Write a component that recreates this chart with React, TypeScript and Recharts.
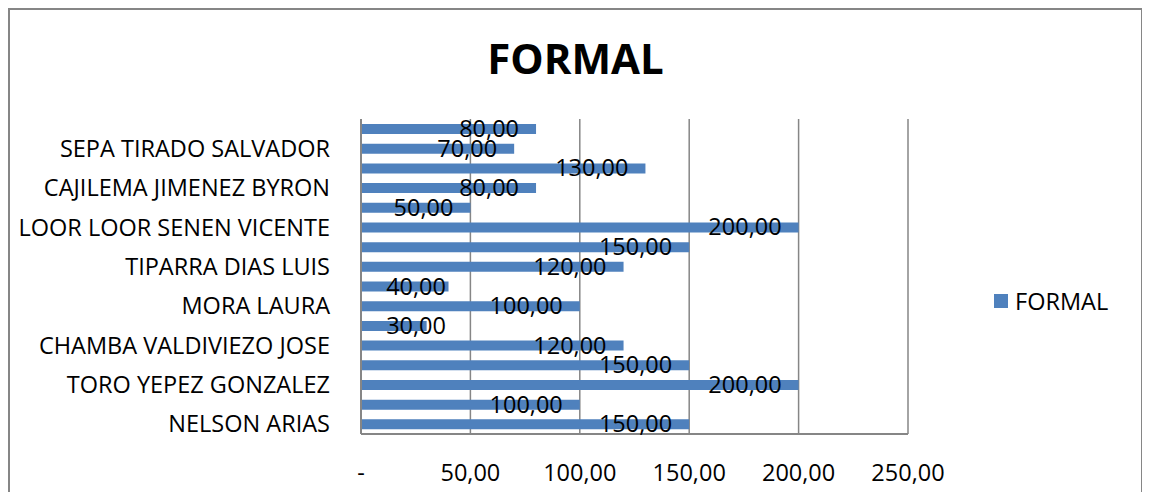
import React from "react";
import { BarChart, Bar, XAxis, YAxis, CartesianGrid, Legend, LabelList } from "recharts";

// categories listed top to bottom as they appear; only every other name is printed on the axis
const names = [
  "",
  "SEPA TIRADO SALVADOR",
  "",
  "CAJILEMA JIMENEZ BYRON",
  "",
  "LOOR LOOR SENEN VICENTE",
  "",
  "TIPARRA DIAS LUIS",
  "",
  "MORA LAURA",
  "",
  "CHAMBA VALDIVIEZO JOSE",
  "",
  "TORO YEPEZ GONZALEZ",
  "",
  "NELSON ARIAS",
];

const formal = [80, 70, 130, 80, 50, 200, 150, 120, 40, 100, 30, 120, 150, 200, 100, 150];

const xTicks = [0, 50, 100, 150, 200, 250];

const data = formal.map((v, i) => ({ id: i, FORMAL: v }));

const FONT = "'Open Sans', sans-serif";
const FS = 23.5;
const GRAY = "#868686";
const BLUE = "#4F81BD";

const fmt = (v: number) => (v === 0 ? "-" : v.toFixed(2).replace(".", ","));

const BarValue = (props: any) => {
  const { x, y, width, height, value } = props;
  const txt = fmt(Number(value));
  const w = txt.length * 12.6;
  // excel "inside end", but short bars keep the label near the axis
  const right = Math.max(x + width - 17, x + 22 + w);
  return (
    <text x={right} y={y + height / 2 + 8} textAnchor="end" fontSize={FS} fontFamily={FONT} fill="#000">
      {txt}
    </text>
  );
};

const LegendBox = () => (
  <div style={{ display: "flex", alignItems: "center", fontFamily: FONT, fontSize: FS, color: "#000" }}>
    <span style={{ width: 14, height: 14, background: BLUE, display: "inline-block", marginRight: 7 }} />
    FORMAL
  </div>
);

export default function App() {
  return (
    <div
      style={{
        position: "relative",
        width: 1135,
        height: 484,
        boxSizing: "border-box",
        borderTop: `2px solid ${GRAY}`,
        borderLeft: `2px solid ${GRAY}`,
        borderRight: `2px solid ${GRAY}`,
        background: "#fff",
      }}
    >
      <div
        style={{
          position: "absolute",
          top: 27,
          left: 0,
          width: "100%",
          textAlign: "center",
          fontFamily: FONT,
          fontWeight: 700,
          fontSize: 42,
          lineHeight: "42px",
          color: "#000",
        }}
      >
        FORMAL
      </div>
      <BarChart
        width={1131}
        height={482}
        data={data}
        layout="vertical"
        margin={{ top: 109, right: 233, left: 0, bottom: 0 }}
        barSize={10}
      >
        <CartesianGrid horizontal={false} stroke={GRAY} strokeWidth={1.5} />
        <XAxis
          type="number"
          domain={[0, 250]}
          ticks={xTicks}
          tickFormatter={fmt}
          height={58}
          tickLine={false}
          tickMargin={24}
          axisLine={{ stroke: GRAY, strokeWidth: 2 }}
          tick={{ fill: "#000", fontSize: FS, fontFamily: FONT }}
        />
        <YAxis
          type="category"
          dataKey="id"
          width={351}
          interval={0}
          tickFormatter={(i: number) => names[i]}
          tickLine={false}
          tickMargin={25}
          axisLine={{ stroke: GRAY, strokeWidth: 2 }}
          tick={{ fill: "#000", fontSize: FS, fontFamily: FONT }}
        />
        <Legend
          layout="horizontal"
          verticalAlign="middle"
          content={<LegendBox />}
          wrapperStyle={{ left: 984, top: 275, width: "auto" }}
        />
        <Bar dataKey="FORMAL" fill={BLUE} isAnimationActive={false}>
          <LabelList dataKey="FORMAL" content={<BarValue />} />
        </Bar>
      </BarChart>
    </div>
  );
}
